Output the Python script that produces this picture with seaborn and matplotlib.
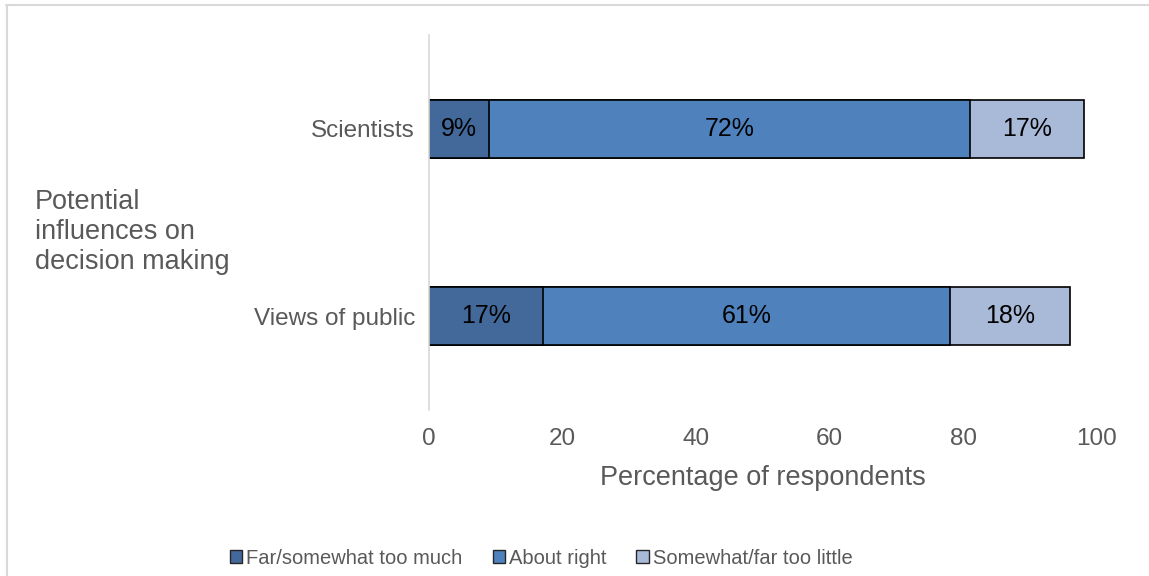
import matplotlib
matplotlib.use("Agg")
import matplotlib.pyplot as plt
from matplotlib.lines import Line2D
from matplotlib.patches import Patch
import seaborn as sns
import pandas as pd
import numpy as np

# Survey results: share of respondents per response, by influence
categories = ["Scientists", "Views of public"]
series_names = ["Far/somewhat too much", "About right", "Somewhat/far too little"]
too_much = [9, 17]
about_right = [72, 61]
too_little = [17, 18]
x_ticks = [0, 20, 40, 60, 80, 100]

colors = ["#42699A", "#4F81BD", "#A9B9D8"]
text_gray = "#595959"

sns.set_theme(style="white")
plt.rcParams["font.family"] = ["Liberation Sans", "DejaVu Sans"]

values = [too_much, about_right, too_little]
df = pd.DataFrame({"category": categories})
for name, vals in zip(series_names, values):
    df[name] = vals
cum = np.cumsum(np.array(values), axis=0)

fig = plt.figure(figsize=(11.49, 5.76), dpi=100)
ax = fig.add_axes([0.3734, 0.288, 0.5813, 0.651])

# Stacked bars: draw cumulative totals from the outermost segment inwards
for i in reversed(range(len(series_names))):
    sns.barplot(x=cum[i], y=categories, orient="h", color=colors[i],
                saturation=1, width=0.31, edgecolor="black", linewidth=1.2,
                ax=ax)

# Segment value labels
for i, vals in enumerate(values):
    starts = cum[i] - np.array(vals)
    for j, v in enumerate(vals):
        ax.text(starts[j] + v / 2, j, f"{v}%", ha="center", va="center",
                fontsize=18, color="black")

ax.set_xlim(0, 100)
ax.set_ylim(1.5, -0.5)
ax.set_xticks(x_ticks)
ax.set_xticklabels([str(t) for t in x_ticks])
ax.tick_params(axis="x", length=0, pad=13, labelsize=17.5, labelcolor=text_gray)
ax.tick_params(axis="y", length=0, pad=10, labelsize=17.5, labelcolor=text_gray)
for side in ["top", "right", "bottom"]:
    ax.spines[side].set_visible(False)
ax.spines["left"].set_color("#D9D9D9")
ax.spines["left"].set_linewidth(1.2)
ax.set_xlabel("Percentage of respondents", fontsize=19.5, color=text_gray,
              labelpad=11)
ax.set_ylabel("")

fig.text(35 / 1149, 1 - 232 / 576,
         "Potential\ninfluences on\ndecision making",
         fontsize=19.5, color=text_gray, ha="left", va="center", linespacing=1.2)

handles = [Patch(facecolor=c, edgecolor="#262626", linewidth=1.0) for c in colors]
fig.legend(handles, series_names, loc="center", bbox_to_anchor=(0.471, 1 - 558 / 576),
           ncol=3, frameon=False, fontsize=14.5, labelcolor=text_gray,
           handlelength=0.6, handleheight=0.6, handletextpad=0.2,
           columnspacing=1.5)

# Light chart-area frame along the top and left edges
fig.add_artist(Line2D([6 / 1149, 1], [1 - 4.5 / 576, 1 - 4.5 / 576],
                      transform=fig.transFigure, color="#D9D9D9", linewidth=1.5))
fig.add_artist(Line2D([7 / 1149, 7 / 1149], [0, 1 - 4.5 / 576],
                      transform=fig.transFigure, color="#D9D9D9", linewidth=1.5))

fig.savefig("out.png", dpi=100)
